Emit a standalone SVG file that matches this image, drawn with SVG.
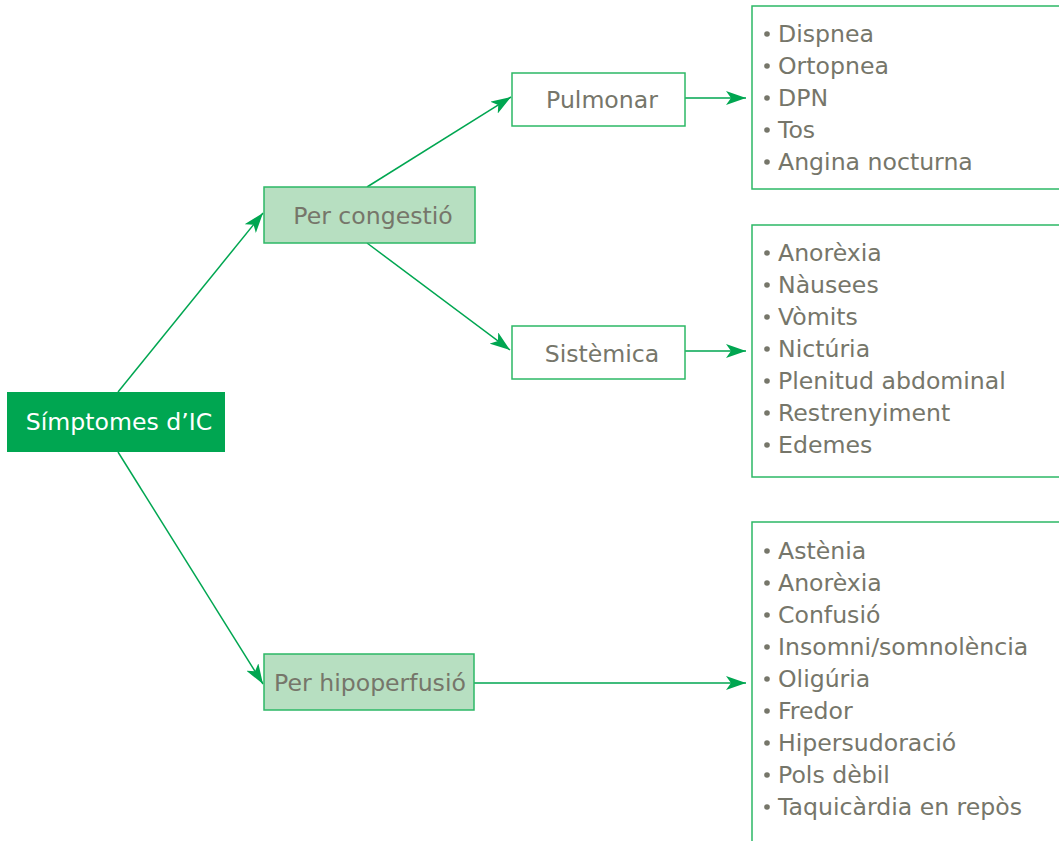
<svg xmlns="http://www.w3.org/2000/svg" width="1059" height="841" viewBox="0 0 1059 841">
  <style>
    .lbl { font-family: "DejaVu Sans", "Open Sans", "Liberation Sans", sans-serif; font-size: 23.6px; fill: #76766a; }
    .mid { text-anchor: middle; }
    .root { fill: #ffffff; }
    .box { fill: #ffffff; stroke: #2db866; stroke-width: 1.5; }
    .soft { fill: #b7dfc1; stroke: #2db866; stroke-width: 1.5; }
    .list { fill: #ffffff; stroke: #2db866; stroke-width: 1.5; }
    .dot { fill: #76766a; }
    .edge { fill: none; stroke: #00a651; stroke-width: 1.5; marker-end: url(#arrow); }
  </style>
  <defs>
    <marker id="arrow" viewBox="0 0 20 14" refX="20" refY="7" markerWidth="20" markerHeight="14" markerUnits="userSpaceOnUse" orient="auto">
      <path d="M0,0 L20,7 L0,14 L5,7 Z" fill="#00a651"/>
    </marker>
    <circle id="b" r="2.8" class="dot"/>
  </defs>
  <rect width="1059" height="841" fill="#ffffff"/>

  <g id="connectors">
    <line class="edge" x1="118" y1="392" x2="263" y2="213"/>
    <line class="edge" x1="118" y1="452" x2="263" y2="684"/>
    <line class="edge" x1="367" y1="187" x2="511" y2="97"/>
    <line class="edge" x1="367" y1="243" x2="510" y2="350"/>
    <line class="edge" x1="685" y1="98" x2="746" y2="98"/>
    <line class="edge" x1="685" y1="351" x2="746" y2="351"/>
    <line class="edge" x1="474" y1="683" x2="746" y2="683"/>
  </g>

  <g id="node-root">
    <rect x="7" y="392" width="218" height="60" fill="#00a651"/>
    <text class="lbl root mid" x="119" y="430">Símptomes d’IC</text>
  </g>

  <g id="node-congestio">
    <rect class="soft" x="264" y="187" width="211" height="56"/>
    <text class="lbl mid" x="373" y="224">Per congestió</text>
  </g>

  <g id="node-hipoperfusio">
    <rect class="soft" x="264" y="654" width="210" height="56"/>
    <text class="lbl mid" x="370" y="691">Per hipoperfusió</text>
  </g>

  <g id="node-pulmonar">
    <rect class="box" x="512" y="73" width="173" height="53"/>
    <text class="lbl mid" x="602" y="108">Pulmonar</text>
  </g>

  <g id="node-sistemica">
    <rect class="box" x="512" y="326" width="173" height="53"/>
    <text class="lbl mid" x="602" y="362">Sistèmica</text>
  </g>

  <g id="list-pulmonar">
    <rect class="list" x="752" y="6" width="320" height="183"/>
    <use href="#b" x="767" y="34"/><text class="lbl" x="778" y="42">Dispnea</text>
    <use href="#b" x="767" y="66"/><text class="lbl" x="778" y="74">Ortopnea</text>
    <use href="#b" x="767" y="98"/><text class="lbl" x="778" y="106">DPN</text>
    <use href="#b" x="767" y="130"/><text class="lbl" x="778" y="138">Tos</text>
    <use href="#b" x="767" y="162"/><text class="lbl" x="778" y="170">Angina nocturna</text>
  </g>

  <g id="list-sistemica">
    <rect class="list" x="752" y="225" width="320" height="252"/>
    <use href="#b" x="767" y="253"/><text class="lbl" x="778" y="261">Anorèxia</text>
    <use href="#b" x="767" y="285"/><text class="lbl" x="778" y="293">Nàusees</text>
    <use href="#b" x="767" y="317"/><text class="lbl" x="778" y="325">Vòmits</text>
    <use href="#b" x="767" y="349"/><text class="lbl" x="778" y="357">Nictúria</text>
    <use href="#b" x="767" y="381"/><text class="lbl" x="778" y="389">Plenitud abdominal</text>
    <use href="#b" x="767" y="413"/><text class="lbl" x="778" y="421">Restrenyiment</text>
    <use href="#b" x="767" y="445"/><text class="lbl" x="778" y="453">Edemes</text>
  </g>

  <g id="list-hipoperfusio">
    <rect class="list" x="752" y="522" width="320" height="340"/>
    <use href="#b" x="767" y="551"/><text class="lbl" x="778" y="559">Astènia</text>
    <use href="#b" x="767" y="583"/><text class="lbl" x="778" y="591">Anorèxia</text>
    <use href="#b" x="767" y="615"/><text class="lbl" x="778" y="623">Confusió</text>
    <use href="#b" x="767" y="647"/><text class="lbl" x="778" y="655">Insomni/somnolència</text>
    <use href="#b" x="767" y="679"/><text class="lbl" x="778" y="687">Oligúria</text>
    <use href="#b" x="767" y="711"/><text class="lbl" x="778" y="719">Fredor</text>
    <use href="#b" x="767" y="743"/><text class="lbl" x="778" y="751">Hipersudoració</text>
    <use href="#b" x="767" y="775"/><text class="lbl" x="778" y="783">Pols dèbil</text>
    <use href="#b" x="767" y="807"/><text class="lbl" x="778" y="815">Taquicàrdia en repòs</text>
  </g>
</svg>
